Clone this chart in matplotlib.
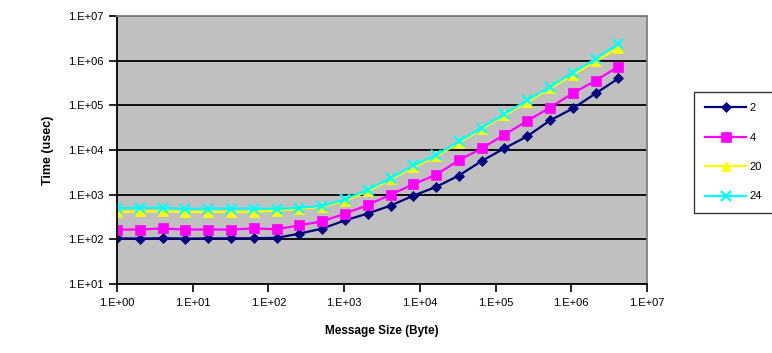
import numpy as np
import matplotlib
matplotlib.use('Agg')
import matplotlib.pyplot as plt
from matplotlib.ticker import FixedLocator, FuncFormatter, NullLocator

plt.rcParams['font.family'] = ['Liberation Sans', 'DejaVu Sans']

# message sizes: powers of two from 1 B to 4 MB
sizes = [2 ** i for i in range(23)]

t_2 = [105, 104, 106, 104, 105, 105, 106, 108, 134, 174, 265, 378, 569, 950,
       1490, 2680, 5670, 10900, 20300, 46000, 85000, 185000, 400000]
t_4 = [165, 166, 176, 165, 166, 165, 176, 168, 206, 253, 376, 585, 1000, 1700,
       2800, 5900, 10900, 22000, 45000, 89000, 187000, 357000, 740000]
t_20 = [410, 420, 420, 410, 410, 410, 410, 440, 480, 540, 720, 1200, 2200, 4100,
        7200, 14500, 29500, 60000, 120000, 240000, 480000, 980000, 1950000]
t_24 = [495, 510, 510, 480, 490, 490, 490, 480, 510, 560, 780, 1300, 2330, 4500,
        7700, 15500, 31500, 64000, 130000, 262000, 540000, 1100000, 2400000]

series = [
    ('2', t_2, '#000080', 'D', 5.5),
    ('4', t_4, '#FF00FF', 's', 6.5),
    ('20', t_20, '#FFFF00', '^', 6.5),
    ('24', t_24, '#00FFFF', 'x', 6.5),
]

fig = plt.figure(figsize=(7.72, 3.53), dpi=100)
ax = fig.add_axes([117 / 772, 1 - 284 / 353, (647 - 117) / 772, (284 - 16) / 353])
ax.set_facecolor('#C0C0C0')

for name, vals, col, mk, ms in series:
    ax.plot(sizes, vals, color=col, marker=mk, markersize=ms, linewidth=1.6,
            markeredgewidth=1.6 if mk == 'x' else 0.5, markeredgecolor=col,
            label=name)

ax.set_xscale('log')
ax.set_yscale('log')
ax.set_xlim(1, 1e7)
ax.set_ylim(10, 1e7)

fmt = FuncFormatter(lambda v, p: '1.E+%02d' % int(round(np.log10(v))))
ax.xaxis.set_major_locator(FixedLocator([10.0 ** k for k in range(8)]))
ax.yaxis.set_major_locator(FixedLocator([10.0 ** k for k in range(1, 8)]))
ax.xaxis.set_minor_locator(NullLocator())
ax.yaxis.set_minor_locator(NullLocator())
ax.xaxis.set_major_formatter(fmt)
ax.yaxis.set_major_formatter(fmt)

ax.grid(axis='y', color='black', linewidth=1.3)
ax.set_axisbelow(True)
ax.tick_params(direction='out', length=6, width=1.2, labelsize=8, color='black', pad=4)

for s in ['left', 'bottom']:
    ax.spines[s].set_color('black')
    ax.spines[s].set_linewidth(1.3)
for s in ['top', 'right']:
    ax.spines[s].set_color('#808080')
    ax.spines[s].set_linewidth(1.3)

ax.set_xlabel('Message Size (Byte)', fontsize=8.5, fontweight='bold', labelpad=12)
ax.set_ylabel('Time (usec)', fontsize=9, fontweight='bold', labelpad=10)

leg = fig.legend(loc='upper left', bbox_to_anchor=(694 / 772, 1 - 92 / 353),
                 frameon=True, fancybox=False, fontsize=8, handlelength=3.7,
                 labelspacing=1.75, handletextpad=0.3, borderpad=1.0,
                 borderaxespad=0.0)
leg.get_frame().set_edgecolor('black')
leg.get_frame().set_linewidth(1.0)

plt.savefig('out.png', dpi=100)
